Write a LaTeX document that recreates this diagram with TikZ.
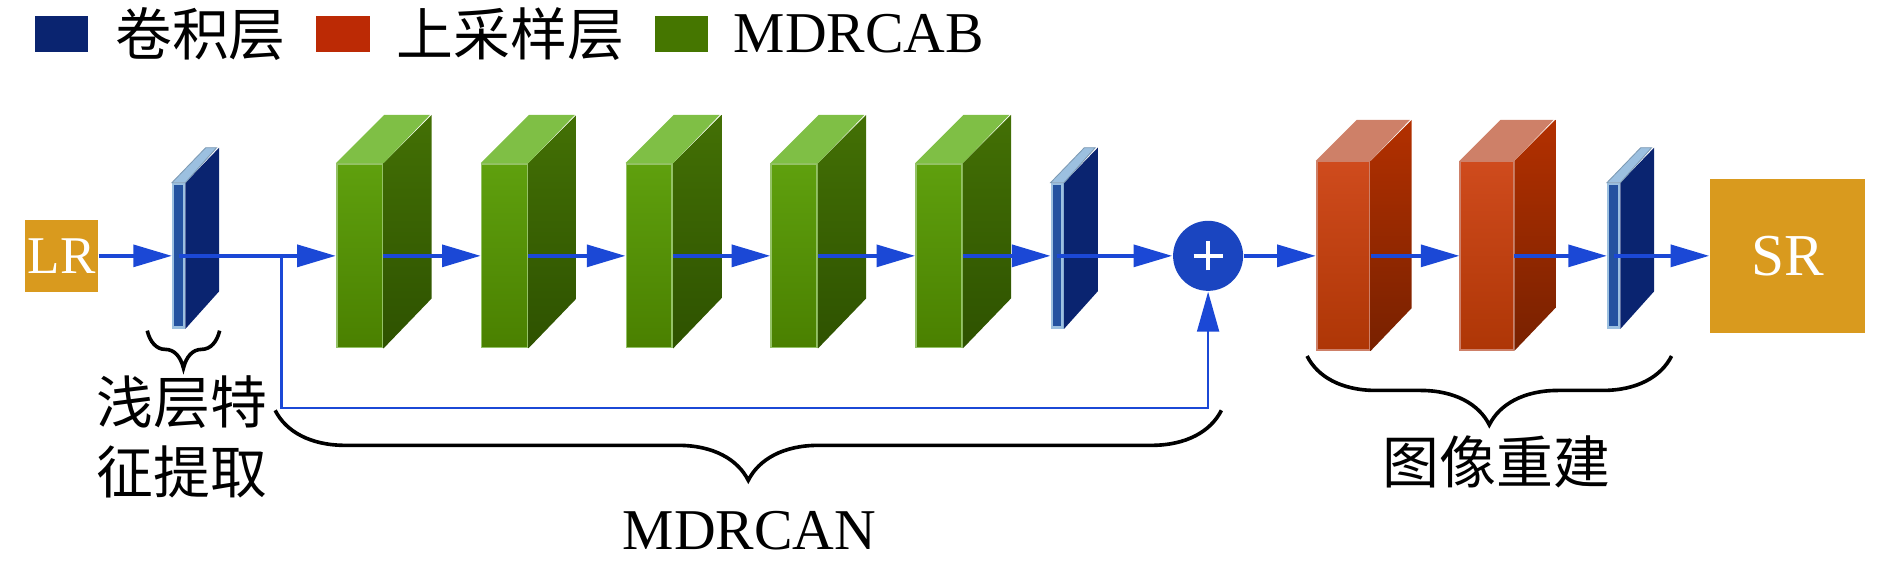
\documentclass[tikz,border=0pt]{standalone}
\usepackage{fontspec}
\setmainfont{Liberation Serif}
\newfontfamily\cjk{Noto Sans CJK SC}
\usetikzlibrary{arrows.meta, positioning, calc, decorations.pathreplacing}
\definecolor{convblue}{HTML}{0A2470}
\definecolor{convfront}{HTML}{2452A0}
\definecolor{convedge}{HTML}{9CC0E0}
\definecolor{upred}{HTML}{BC2A05}
\definecolor{upfrontT}{HTML}{CF4B1D}
\definecolor{upfrontB}{HTML}{AE3606}
\definecolor{upsideT}{HTML}{B33000}
\definecolor{upsideB}{HTML}{782100}
\definecolor{uptop}{HTML}{CE8068}
\definecolor{cabgreen}{HTML}{457600}
\definecolor{cabfrontT}{HTML}{5FA00E}
\definecolor{cabfrontB}{HTML}{4A8000}
\definecolor{cabsideT}{HTML}{437005}
\definecolor{cabsideB}{HTML}{2E5200}
\definecolor{cabtop}{HTML}{7FBF45}
\definecolor{cabedge}{HTML}{94C266}
\definecolor{iogold}{HTML}{D99A1E}
\definecolor{flowblue}{HTML}{1B48D6}
\definecolor{sumblue}{HTML}{1A45C0}

\begin{document}
\begin{tikzpicture}[x=0.01cm, y=-0.01cm,
  legbox/.style={minimum width=0.44cm, minimum height=0.30cm, inner sep=0},
  legtxt/.style={inner sep=0, font=\cjk\fontsize{13.4pt}{16pt}\selectfont},
  cabfront/.style={minimum width=0.38cm, minimum height=1.52cm, inner sep=0, top color=cabfrontT, bottom color=cabfrontB, draw=cabedge, line width=0.4pt},
  upfront/.style={minimum width=0.44cm, minimum height=1.56cm, inner sep=0, top color=upfrontT, bottom color=upfrontB, draw=uptop, line width=0.4pt},
  convfront/.style={minimum width=0.09cm, minimum height=1.19cm, inner sep=0, fill=convfront, draw=convedge, line width=0.6pt},
  io/.style={fill=iogold, text=white, inner sep=0},
  flow/.style={-{Triangle[length=0.32cm, width=0.18cm]}, line width=0.033cm, flowblue},
  skip/.style={-{Triangle[length=0.33cm, width=0.18cm]}, line width=0.022cm, flowblue},
  brc/.style={decorate, decoration={brace, amplitude=#1}, line width=0.03cm},
  cjktxt/.style={inner sep=0, align=center, font=\cjk\fontsize{13.4pt}{16.5pt}\selectfont}]
  \useasboundingbox (0,0) rectangle (1566,469.8);

  \node[legbox, fill=convblue] (kconv) at (51,28) {};
  \node[legtxt, right=0.21cm of kconv] (tconv) {卷积层};
  \node[legbox, fill=upred, right=0.24cm of tconv] (kup) {};
  \node[legtxt, right=0.21cm of kup] (tup) {上采样层};
  \node[legbox, fill=cabgreen, right=0.24cm of tup] (kcab) {};
  \node[legtxt, font=\fontsize{13.6pt}{16pt}\selectfont, right=0.2cm of kcab] (tcab) {MDRCAB};

  \node[io, minimum size=0.6cm, font=\fontsize{12.5pt}{14pt}\selectfont] (lr) at (51,212) {LR};
  \node[io, minimum size=1.28cm, font=\fontsize{14pt}{16pt}\selectfont] (sr) at (1481,212) {SR};

  \foreach \n/\x in {c1/148, c2/876, c3/1337} {
    \node[convfront] (\n) at (\x,212) {};
    \fill[convblue] (\n.north east) -- ++(28,-29) -- ++(0,119) -- (\n.south east) -- cycle;
    \filldraw[convedge, draw=convedge!80!black, line width=0.2pt] (\n.north west) -- ++(28,-29) -- ++(9,0) -- (\n.north east) -- cycle;
  }
  \foreach \n/\x in {g1/298, g2/418, g3/538, g4/658, g5/778} {
    \node[cabfront] (\n) at (\x,212) {};
    \shade[top color=cabsideT, bottom color=cabsideB] (\n.north east) -- ++(40,-40) -- ++(0,152) -- (\n.south east) -- cycle;
    \fill[cabtop] (\n.north west) -- ++(40,-40) -- ++(38,0) -- (\n.north east) -- cycle;
  }
  \foreach \n/\x in {r1/1113, r2/1232} {
    \node[upfront] (\n) at (\x,212) {};
    \shade[top color=upsideT, bottom color=upsideB] (\n.north east) -- ++(34,-34) -- ++(0,156) -- (\n.south east) -- cycle;
    \fill[uptop] (\n.north west) -- ++(34,-34) -- ++(44,0) -- (\n.north east) -- cycle;
  }
  \node[circle, fill=sumblue, minimum size=0.58cm, inner sep=0,
    path picture={\draw[white, line width=0.035cm] (path picture bounding box.center) ++(-0.12cm,0) -- ++(0.24cm,0);
                  \draw[white, line width=0.035cm] (path picture bounding box.center) ++(0,-0.12cm) -- ++(0,0.24cm);}] (sum) at (1001,212) {};
  \coordinate (split) at (233,212);

  \draw[flow] (lr) -- (c1);
  \draw[flow] (c1.center) -- (g1);
  \foreach \a/\b in {g1/g2, g2/g3, g3/g4, g4/g5}
    \draw[flow] (\a.east) -- (\b.west);
  \draw[flow] (g5.east) -- (c2.west);
  \draw[flow] (c2.center) -- (sum);
  \draw[flow] (sum) -- (r1);
  \draw[flow] (r1.east) -- (r2.west);
  \draw[flow] (r2.east) -- (c3.west);
  \draw[flow] (c3.center) -- (sr);
  \draw[skip] (split) -- ++(0,126) -| (sum);

  \draw[brc=0.31cm] (182,274) -- (122,274);
  \draw[brc=0.58cm] (1012,340) -- (228,340);
  \draw[brc=0.57cm] (1385,295) -- (1083,295);
  \node[cjktxt] (shallow) at (151,362) {浅层特\\征提取};
  \node[inner sep=0, font=\fontsize{13.6pt}{16pt}\selectfont] (mdrcan) at (621,440) {MDRCAN};
  \node[cjktxt] (recon) at (1240,383) {图像重建};
\end{tikzpicture}
\end{document}
